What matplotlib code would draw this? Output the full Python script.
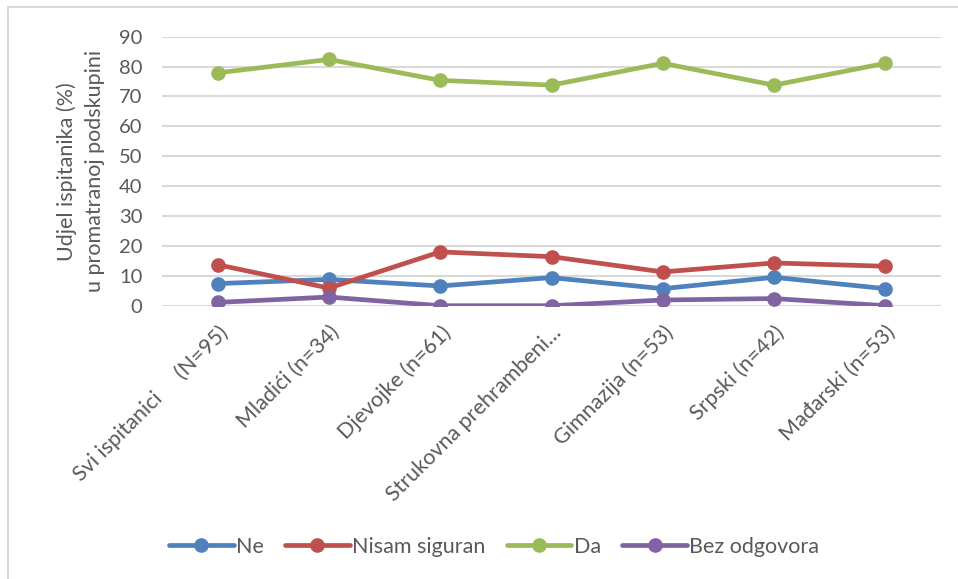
import matplotlib
matplotlib.use('Agg')
import matplotlib.pyplot as plt
from matplotlib.patches import Rectangle

plt.rcParams['font.family'] = ['Lato', 'DejaVu Sans']

categories = ['Svi ispitanici     (N=95)', 'Mladići (n=34)', 'Djevojke (n=61)',
              'Strukovna prehrambeni…', 'Gimnazija (n=53)', 'Srpski (n=42)',
              'Mađarski (n=53)']
ne = [7.4, 8.8, 6.6, 9.4, 5.7, 9.5, 5.7]
nisam_siguran = [13.7, 5.9, 18.0, 16.4, 11.3, 14.3, 13.2]
da = [77.9, 82.4, 75.4, 73.8, 81.1, 73.8, 81.1]
bez_odgovora = [1.1, 2.9, 0.0, 0.0, 1.9, 2.4, 0.0]

series = [('Ne', ne, '#4F81BD'),
          ('Nisam siguran', nisam_siguran, '#C0504D'),
          ('Da', da, '#9BBB59'),
          ('Bez odgovora', bez_odgovora, '#8064A2')]

txt = '#595959'

fig = plt.figure(figsize=(9.58, 5.79), dpi=100)
ax = fig.add_axes([162 / 958, 1 - 305.7 / 579, 779 / 958, 269 / 579])

# chart border like excel
fig.patches.append(Rectangle((8 / 958, -0.1), 1.2, 1.1 - 7 / 579, transform=fig.transFigure,
                             fill=False, edgecolor='#D9D9D9', linewidth=1.5))

x = list(range(len(categories)))
for name, vals, col in series:
    ax.plot(x, vals, color=col, linewidth=3.4, marker='o', markersize=9.5,
            label=name, solid_capstyle='round')

ax.set_xlim(-0.5, len(categories) - 0.5)
ax.set_ylim(0, 90)
ax.set_yticks(range(0, 91, 10))
ax.yaxis.grid(True, color='#D9D9D9', linewidth=1.5)
ax.set_axisbelow(True)
for s in ax.spines.values():
    s.set_visible(False)
ax.tick_params(length=0, labelsize=14.5, colors=txt)
ax.tick_params(axis='y', pad=14)
ax.set_xticks(x)
ax.set_xticklabels(categories, rotation=45, ha='right', rotation_mode='anchor',
                   fontsize=15.5)
ax.tick_params(axis='x', pad=12)

ax.set_ylabel('Udjel ispitanika (%)\nu promatranoj podskupini', fontsize=15.5,
              color=txt, labelpad=10, linespacing=1.5)

leg = fig.legend(loc='center', bbox_to_anchor=(494 / 958, 1 - 547 / 579), ncol=4,
                 frameon=False, fontsize=15.5, handlelength=3.0, handletextpad=0.1,
                 columnspacing=1.0)
for t in leg.get_texts():
    t.set_color(txt)

fig.savefig('out.png', dpi=100)
